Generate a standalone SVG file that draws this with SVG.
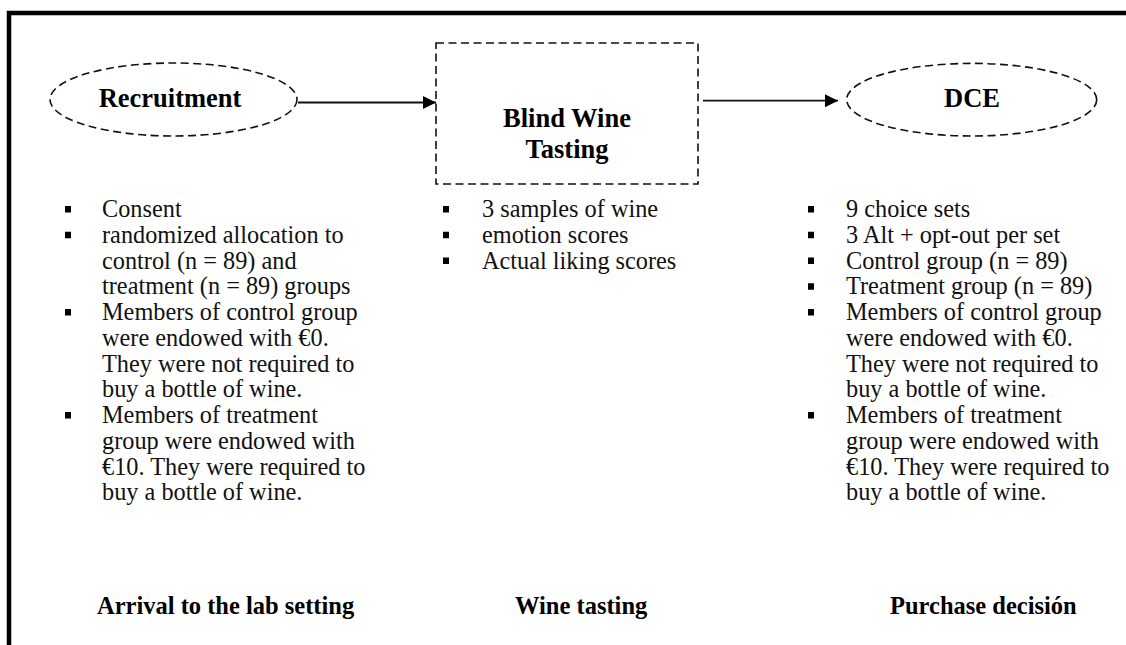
<svg xmlns="http://www.w3.org/2000/svg" width="1126" height="645" viewBox="0 0 1126 645">
<style>
.frame{fill:none;stroke:#000;stroke-width:4.5}
.dash{fill:none;stroke:#111;stroke-width:1.6;stroke-dasharray:8 4.5}
.title{font-family:"Liberation Serif","Times New Roman",serif;font-weight:bold;font-size:26.5px;fill:#000;text-anchor:middle}
.body{font-family:"Liberation Serif","Times New Roman",serif;font-size:24.3px;fill:#111}
.foot{font-family:"Liberation Serif","Times New Roman",serif;font-weight:bold;font-size:24.5px;fill:#000}
.bul{fill:#000}
.conn{fill:none;stroke:#111;stroke-width:1.8}
</style>
<defs>
<marker id="arr" markerWidth="14" markerHeight="14" refX="13" refY="7" orient="auto" markerUnits="userSpaceOnUse">
<path d="M0,0.5 L13,7 L0,13.5 Z" fill="#000"/>
</marker>
<rect id="b" width="6" height="6.5" class="bul"/>
</defs>
<rect width="1126" height="645" fill="#fff"/>
<path class="frame" d="M9,645 V13 H1126"/>
<g id="connectors">
<line class="conn" x1="298" y1="102.5" x2="436" y2="102.5" marker-end="url(#arr)"/>
<line class="conn" x1="703" y1="100.7" x2="838" y2="100.7" stroke="#444" stroke-width="2.2" marker-end="url(#arr)"/>
</g>
<g id="recruitment">
<ellipse class="dash" cx="173.5" cy="99.5" rx="123.5" ry="36.5"/>
<text class="title" x="170" y="106.5">Recruitment</text>
</g>
<g id="blind-wine-tasting">
<rect class="dash" x="436" y="43" width="262" height="141" stroke-dasharray="7 3.5"/>
<text class="title" x="567" y="127">Blind Wine</text>
<text class="title" x="567" y="158">Tasting</text>
</g>
<g id="dce">
<ellipse class="dash" cx="971.7" cy="99.7" rx="125" ry="36.3"/>
<text class="title" x="972" y="106.5">DCE</text>
</g>
<g id="left-list">
<use href="#b" x="65" y="206"/>
<use href="#b" x="65" y="231.75"/>
<use href="#b" x="65" y="309"/>
<use href="#b" x="65" y="412"/>
<text class="body" x="102" y="217">Consent</text>
<text class="body" x="102" y="242.75">randomized allocation to</text>
<text class="body" x="102" y="268.5">control (n = 89) and</text>
<text class="body" x="102" y="294.25">treatment (n = 89) groups</text>
<text class="body" x="102" y="320">Members of control group</text>
<text class="body" x="102" y="345.75">were endowed with €0.</text>
<text class="body" x="102" y="371.5">They were not required to</text>
<text class="body" x="102" y="397.25">buy a bottle of wine.</text>
<text class="body" x="102" y="423">Members of treatment</text>
<text class="body" x="102" y="448.75">group were endowed with</text>
<text class="body" x="102" y="474.5">€10. They were required to</text>
<text class="body" x="102" y="500.25">buy a bottle of wine.</text>
</g>
<g id="middle-list">
<use href="#b" x="443" y="206"/>
<use href="#b" x="443" y="231.75"/>
<use href="#b" x="443" y="257.5"/>
<text class="body" x="482" y="217">3 samples of wine</text>
<text class="body" x="482" y="242.75">emotion scores</text>
<text class="body" x="482" y="268.5">Actual liking scores</text>
</g>
<g id="right-list">
<use href="#b" x="808" y="206"/>
<use href="#b" x="808" y="231.75"/>
<use href="#b" x="808" y="257.5"/>
<use href="#b" x="808" y="283.25"/>
<use href="#b" x="808" y="309"/>
<use href="#b" x="808" y="412"/>
<text class="body" x="846" y="217">9 choice sets</text>
<text class="body" x="846" y="242.75">3 Alt + opt-out per set</text>
<text class="body" x="846" y="268.5">Control group (n = 89)</text>
<text class="body" x="846" y="294.25">Treatment group (n = 89)</text>
<text class="body" x="846" y="320">Members of control group</text>
<text class="body" x="846" y="345.75">were endowed with €0.</text>
<text class="body" x="846" y="371.5">They were not required to</text>
<text class="body" x="846" y="397.25">buy a bottle of wine.</text>
<text class="body" x="846" y="423">Members of treatment</text>
<text class="body" x="846" y="448.75">group were endowed with</text>
<text class="body" x="846" y="474.5">€10. They were required to</text>
<text class="body" x="846" y="500.25">buy a bottle of wine.</text>
</g>
<g id="phase-labels">
<text class="foot" x="97" y="614">Arrival to the lab setting</text>
<text class="foot" x="515" y="614">Wine tasting</text>
<text class="foot" x="890" y="614">Purchase decisión</text>
</g>
</svg>
